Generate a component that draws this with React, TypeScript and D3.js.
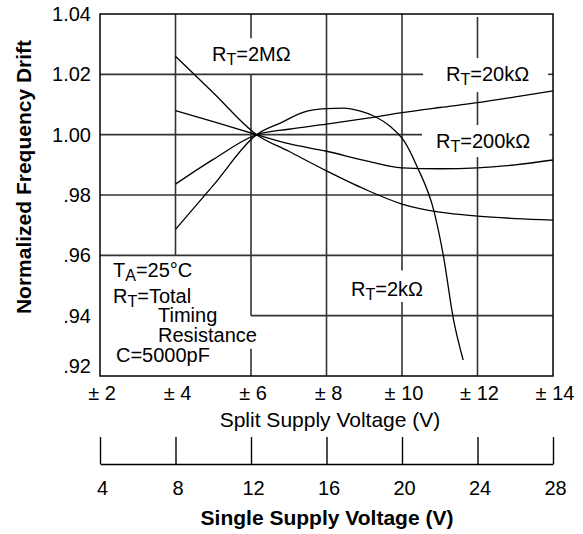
import React, { useEffect, useRef } from "react";
import * as d3 from "d3";

// split supply ticks (±V) and single supply ticks (V)
const splitTicks = [2, 4, 6, 8, 10, 12, 14];
const singleTicks = [4, 8, 12, 16, 20, 24, 28];
const yTicks = [0.92, 0.94, 0.96, 0.98, 1.0, 1.02, 1.04];
const yTickLabels = [".92", ".94", ".96", ".98", "1.00", "1.02", "1.04"];

// curves: [split supply V, normalized drift]
const rt2M: [number, number][] = [
  [4, 1.026], [5, 1.0139], [6.15, 1.0], [7, 0.9945], [8, 0.988], [9, 0.982],
  [10, 0.977], [11, 0.9743], [12, 0.973], [13, 0.9722], [14, 0.9717],
];
const rt200k: [number, number][] = [
  [4, 1.008], [5, 1.0043], [6.15, 1.0], [7, 0.997], [8, 0.9945], [9, 0.9915],
  [10, 0.989], [11, 0.9887], [12, 0.989], [13, 0.990], [14, 0.9916],
];
const rt20k: [number, number][] = [
  [4, 0.9836], [5, 0.9918], [6.15, 1.0], [7, 1.0018], [8, 1.0035], [9, 1.0053],
  [10, 1.0073], [11, 1.009], [12, 1.0106], [13, 1.0125], [14, 1.0145],
];
const rt2k: [number, number][] = [
  [4, 0.9686], [5, 0.9832], [6.15, 1.0], [6.8, 1.004], [7.4, 1.0075], [8, 1.0086],
  [8.45, 1.0088], [8.9, 1.0078], [9.25, 1.0062], [9.7, 1.0026], [10.05, 0.998],
  [10.4, 0.9894], [10.85, 0.9745], [11.1, 0.9596], [11.36, 0.939], [11.62, 0.9253],
];
const series = [rt2M, rt200k, rt20k, rt2k];

// grid segments (broken where the labels sit)
const vGrid: { x: number; spans: [number, number][] }[] = [
  { x: 4, spans: [[1.04, 0.96]] },
  { x: 6, spans: [[1.04, 1.032], [1.02, 0.94], [0.929, 0.92]] },
  { x: 8, spans: [[1.04, 0.92]] },
  { x: 10, spans: [[1.04, 0.955], [0.9445, 0.92]] },
  { x: 12, spans: [[1.039, 1.0254], [1.0141, 1.0032], [0.9926, 0.92]] },
];
const hGrid: { y: number; spans: [number, number][] }[] = [
  { y: 1.02, spans: [[2, 10.56], [13.87, 14]] },
  { y: 1.0, spans: [[2, 10.53], [13.9, 14]] },
  { y: 0.98, spans: [[2, 14]] },
  { y: 0.96, spans: [[2, 14]] },
  { y: 0.94, spans: [[6, 14]] },
];

const FONT = "'Liberation Sans', Arial, Helvetica, sans-serif";

const App: React.FC = () => {
  const svgRef = useRef<SVGSVGElement | null>(null);
  const width = 583;
  const height = 534;

  useEffect(() => {
    const svg = d3.select(svgRef.current).attr("width", width).attr("height", height);
    svg.selectAll("*").remove();

    const x = d3.scaleLinear().domain([2, 14]).range([100, 553]);
    const y = d3.scaleLinear().domain([0.92, 1.04]).range([376, 14]);
    const xs = d3.scaleLinear().domain([4, 28]).range([100, 553]);

    const g = svg.append("g").attr("font-family", FONT);

    // Grid
    const grid = g.append("g").attr("stroke", "#333").attr("stroke-width", 1.6);
    vGrid.forEach((v) =>
      v.spans.forEach(([a, b]) =>
        grid.append("line").attr("x1", x(v.x)).attr("x2", x(v.x)).attr("y1", y(a)).attr("y2", y(b))
      )
    );
    hGrid.forEach((h) =>
      h.spans.forEach(([a, b]) =>
        grid.append("line").attr("x1", x(a)).attr("x2", x(b)).attr("y1", y(h.y)).attr("y2", y(h.y))
      )
    );

    // Frame
    g.append("rect")
      .attr("x", x(2))
      .attr("y", y(1.04))
      .attr("width", x(14) - x(2))
      .attr("height", y(0.92) - y(1.04))
      .attr("fill", "none")
      .attr("stroke", "#000")
      .attr("stroke-width", 1.5);

    // Curves
    const line = d3
      .line<[number, number]>()
      .x((d) => x(d[0]))
      .y((d) => y(d[1]))
      .curve(d3.curveMonotoneX);
    g.append("g")
      .selectAll("path")
      .data(series)
      .join("path")
      .attr("d", (d) => line(d))
      .attr("fill", "none")
      .attr("stroke", "#000")
      .attr("stroke-width", 1.3);

    // Y tick labels
    g.append("g")
      .selectAll("text")
      .data(yTicks)
      .join("text")
      .attr("x", 91)
      .attr("y", (d) => y(d) + (d === 0.92 ? -10 : 0))
      .attr("dy", "0.35em")
      .attr("text-anchor", "end")
      .attr("font-size", 20)
      .text((_, i) => yTickLabels[i]);

    // Split supply tick labels
    g.append("g")
      .selectAll("text")
      .data(splitTicks)
      .join("text")
      .attr("x", (d) => x(d) + 2)
      .attr("y", 400)
      .attr("text-anchor", "middle")
      .attr("font-size", 20)
      .text((d) => `\u00B1 ${d}`);

    g.append("text")
      .attr("x", 330)
      .attr("y", 427)
      .attr("text-anchor", "middle")
      .attr("font-size", 21)
      .text("Split Supply Voltage (V)");

    // Single supply axis
    const axis = g
      .append("g")
      .attr("transform", "translate(0,464)")
      .call(d3.axisBottom(xs).tickValues(singleTicks).tickSize(-27).tickSizeOuter(0).tickPadding(17));
    axis.attr("font-family", FONT).attr("font-size", 20);
    axis.selectAll("path,line").attr("stroke", "#000").attr("stroke-width", 1.4);
    axis.selectAll("text").attr("fill", "#000").attr("dx", 2);

    g.append("text")
      .attr("x", 327)
      .attr("y", 525)
      .attr("text-anchor", "middle")
      .attr("font-size", 21)
      .attr("font-weight", "bold")
      .text("Single Supply Voltage (V)");

    // Y title
    g.append("text")
      .attr("transform", "translate(31,177) rotate(-90)")
      .attr("text-anchor", "middle")
      .attr("font-size", 21)
      .attr("font-weight", "bold")
      .text("Normalized Frequency Drift");

    // R_T annotations
    const sub = (px: number, py: number, main: string, s: string, rest: string) => {
      const t = g.append("text").attr("x", px).attr("y", py).attr("font-size", 20);
      t.append("tspan").text(main);
      t.append("tspan").attr("font-size", 16).attr("dy", 4).text(s);
      t.append("tspan").attr("dy", -4).text(rest);
    };
    sub(212, 61, "R", "T", "=2M\u03A9");
    sub(446, 81, "R", "T", "=20k\u03A9");
    sub(436, 148, "R", "T", "=200k\u03A9");
    sub(351, 296, "R", "T", "=2k\u03A9");

    // Conditions block
    sub(113, 277, "T", "A", "=25\u00B0C");
    sub(113, 303, "R", "T", "=Total");
    g.append("text").attr("x", 158).attr("y", 322).attr("font-size", 20).text("Timing");
    g.append("text").attr("x", 158).attr("y", 342).attr("font-size", 20).text("Resistance");
    g.append("text").attr("x", 116).attr("y", 362).attr("font-size", 20).text("C=5000pF");
  }, []);

  return (
    <svg
      ref={svgRef}
      style={{ position: "absolute", left: 0, top: 0, background: "#fff" }}
    ></svg>
  );
};

export default App;
